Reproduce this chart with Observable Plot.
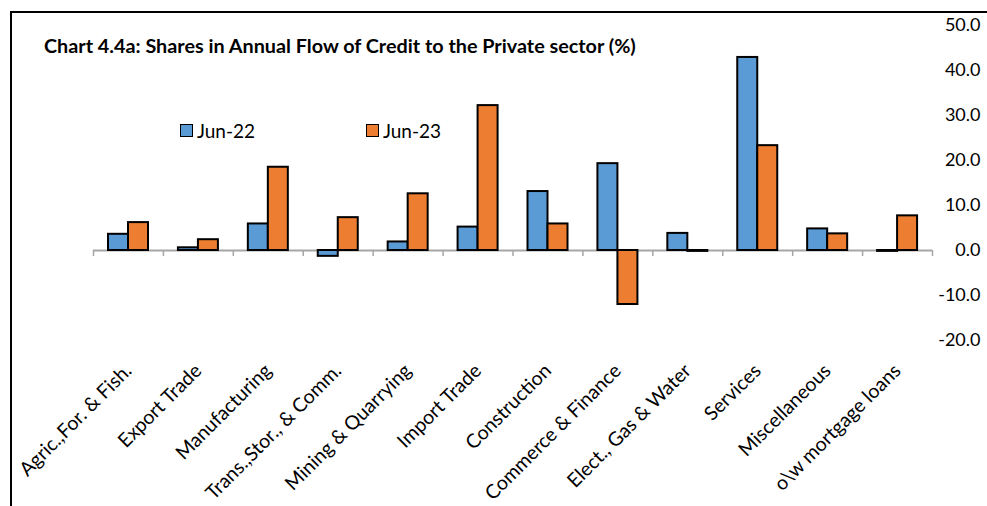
<!DOCTYPE html>
<html>
<head>
<meta charset="utf-8">
<script src="https://cdn.jsdelivr.net/npm/d3@7"></script>
<script src="https://cdn.jsdelivr.net/npm/@observablehq/plot@0.6"></script>
<style>
  html, body { margin: 0; padding: 0; background: #fff; }
  #wrap { position: relative; width: 987px; height: 506px; overflow: hidden; font-family: Lato, "Open Sans", sans-serif; }
  #frame { position: absolute; left: 10px; top: 11px; right: -10px; bottom: -10px; border-left: 2px solid #000; border-top: 2px solid #000; pointer-events: none; }
  #title { position: absolute; left: 44px; top: 33px; font-weight: bold; font-size: 19.8px; color: #000; white-space: nowrap; }
  .leg { position: absolute; top: 119px; font-size: 19px; color: #000; display: flex; align-items: center; white-space: nowrap; }
  .sw { width: 11px; height: 11px; border: 1.5px solid #000; margin-right: 4px; }
</style>
</head>
<body>
<div id="wrap">
  <div id="chart"></div>
  <div id="frame"></div>
  <div id="title"></div>
  <div id="legend"></div>
</div>
<script>
const titleText = "Chart 4.4a: Shares in Annual Flow of Credit to the Private sector (%)";
const categories = [
  "Agric.,For. & Fish.", "Export Trade", "Manufacturing", "Trans.,Stor., & Comm.",
  "Mining & Quarrying", "Import Trade", "Construction", "Commerce & Finance",
  "Elect., Gas & Water", "Services", "Miscellaneous", "o\\w mortgage loans"
];
const seriesNames = ["Jun-22", "Jun-23"];
const jun22 = [3.6, 0.6, 5.9, -1.3, 1.9, 5.2, 13.1, 19.3, 3.8, 42.9, 4.8, -0.2];
const jun23 = [6.2, 2.4, 18.5, 7.3, 12.6, 32.2, 5.9, -12.0, -0.2, 23.3, 3.7, 7.7];
const yTicks = [-20, -10, 0, 10, 20, 30, 40, 50];
const colors = ["#5B9BD5", "#ED7D31"];

const d22 = categories.map((c, i) => ({category: c, value: jun22[i]}));
const d23 = categories.map((c, i) => ({category: c, value: jun23[i]}));

const W = 987, H = 506;
const mL = 93, mR = 55, mT = 25, mB = 166;
const band = (W - mL - mR) / categories.length;

const plot = Plot.plot({
  width: W,
  height: H,
  marginLeft: mL,
  marginRight: mR,
  marginTop: mT,
  marginBottom: mB,
  style: {fontFamily: "Lato, 'Open Sans', sans-serif", background: "transparent", overflow: "visible"},
  x: {domain: categories, padding: 0, round: false, axis: null},
  y: {domain: [-20, 50], axis: null},
  marks: [
    Plot.ruleY([0], {stroke: "#A6A6A6", strokeWidth: 2}),
    Plot.ruleX(categories, {x: d => d, y1: 0, y2: 0, dx: -band / 2, insetBottom: -6, stroke: "#A6A6A6", strokeWidth: 1.5}),
    Plot.ruleX([categories[categories.length - 1]], {x: d => d, y1: 0, y2: 0, dx: band / 2, insetBottom: -6, stroke: "#A6A6A6", strokeWidth: 1.5}),
    Plot.barY(d22, {x: "category", y: "value", fill: colors[0], stroke: "#000", strokeWidth: 2, insetLeft: 15, insetRight: band - 35}),
    Plot.barY(d23, {x: "category", y: "value", fill: colors[1], stroke: "#000", strokeWidth: 2, insetLeft: 35, insetRight: band - 55}),
    Plot.text(yTicks, {y: d => d, text: d => d.toFixed(1), frameAnchor: "right", dx: 48, textAnchor: "end", fontSize: 18, fill: "#000"}),
    Plot.text(categories, {x: d => d, text: d => d, frameAnchor: "bottom", dy: 27, rotate: -45, textAnchor: "end", lineAnchor: "middle", fontSize: 19.5, fill: "#000"})
  ]
});
document.getElementById("chart").appendChild(plot);

document.getElementById("title").textContent = titleText;
const legend = document.getElementById("legend");
const legX = [180, 366];
seriesNames.forEach((s, i) => {
  const el = document.createElement("div");
  el.className = "leg";
  el.style.left = legX[i] + "px";
  const sw = document.createElement("div");
  sw.className = "sw";
  sw.style.background = colors[i];
  const t = document.createElement("span");
  t.textContent = s;
  el.appendChild(sw);
  el.appendChild(t);
  legend.appendChild(el);
});
</script>
</body>
</html>
